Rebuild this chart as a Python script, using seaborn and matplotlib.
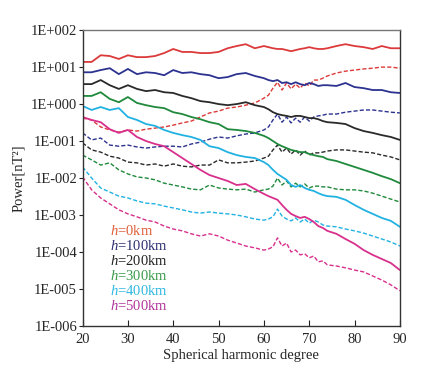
import numpy as np
import matplotlib
matplotlib.use('Agg')
import matplotlib.pyplot as plt
import seaborn as sns

# spherical harmonic degree (denser around 60-74 where the dashed curves zigzag)
degree = [20, 22, 24, 26, 28, 30, 32, 34, 36, 38, 40, 42, 44, 46, 48, 50, 52, 54, 56, 58, 60,
          61, 62, 63, 64, 65, 66, 67, 68, 69, 70, 71, 72, 73, 74,
          76, 78, 80, 82, 84, 86, 88, 90]

# log10 of power [nT^2], solid curves
solid_h0 = [1.14, 1.14, 1.32, 1.30, 1.22, 1.32, 1.27, 1.27, 1.30, 1.38, 1.49, 1.41, 1.41, 1.38, 1.38, 1.41, 1.51, 1.57, 1.62, 1.51, 1.57,
            1.54, 1.51, 1.49, 1.49, 1.46, 1.43, 1.46, 1.49, 1.51, 1.54, 1.51, 1.49, 1.49, 1.51,
            1.57, 1.62, 1.57, 1.54, 1.49, 1.57, 1.51, 1.51]
solid_h100 = [0.86, 0.86, 0.92, 0.97, 0.81, 0.95, 0.81, 0.86, 0.84, 0.78, 0.92, 0.84, 0.86, 0.81, 0.78, 0.70, 0.73, 0.81, 0.84, 0.76, 0.70,
              0.65, 0.62, 0.65, 0.57, 0.59, 0.54, 0.59, 0.54, 0.51, 0.57, 0.54, 0.49, 0.51, 0.51,
              0.49, 0.57, 0.46, 0.43, 0.38, 0.38, 0.32, 0.30]
solid_h200 = [0.54, 0.54, 0.65, 0.51, 0.41, 0.51, 0.41, 0.35, 0.38, 0.32, 0.30, 0.22, 0.16, 0.08, 0.05, 0.00, -0.03, 0.00, 0.05, -0.03, -0.08,
              -0.14, -0.22, -0.27, -0.30, -0.32, -0.35, -0.32, -0.32, -0.35, -0.38, -0.38, -0.41, -0.46, -0.49,
              -0.51, -0.54, -0.65, -0.73, -0.78, -0.84, -0.89, -0.97]
solid_h300 = [0.22, 0.22, 0.32, 0.14, 0.05, 0.19, 0.03, -0.03, -0.08, -0.11, -0.22, -0.27, -0.35, -0.41, -0.49, -0.54, -0.68, -0.70, -0.73, -0.78, -0.86,
              -0.92, -1.00, -1.08, -1.14, -1.19, -1.24, -1.27, -1.30, -1.30, -1.35, -1.38, -1.41, -1.43, -1.49,
              -1.54, -1.62, -1.70, -1.78, -1.86, -1.95, -2.03, -2.14]
solid_h400 = [-0.05, -0.16, -0.08, -0.16, -0.11, -0.35, -0.43, -0.54, -0.59, -0.70, -0.78, -0.84, -0.89, -0.97, -1.14, -1.19, -1.30, -1.38, -1.43, -1.46, -1.57,
              -1.65, -1.78, -1.89, -1.97, -2.05, -2.19, -2.24, -2.19, -2.27, -2.32, -2.35, -2.41, -2.46, -2.49,
              -2.51, -2.59, -2.73, -2.86, -2.97, -3.08, -3.16, -3.32]
solid_h500 = [-0.35, -0.43, -0.49, -0.68, -0.78, -0.70, -0.89, -1.00, -1.08, -1.14, -1.30, -1.46, -1.62, -1.78, -1.92, -2.00, -2.08, -2.19, -2.16, -2.30, -2.43,
              -2.49, -2.54, -2.59, -2.73, -2.86, -2.97, -3.03, -3.08, -3.05, -3.11, -3.19, -3.30, -3.35, -3.43,
              -3.51, -3.65, -3.78, -3.95, -4.08, -4.19, -4.30, -4.49]

# log10 of power [nT^2], dashed curves
dash_h0 = [-0.38, -0.43, -0.62, -0.70, -0.76, -0.70, -0.73, -0.68, -0.65, -0.62, -0.57, -0.51, -0.46, -0.35, -0.24, -0.19, -0.11, -0.08, -0.03, 0.03, 0.16,
           0.24, 0.43, 0.59, 0.38, 0.57, 0.41, 0.54, 0.43, 0.57, 0.49, 0.65, 0.65, 0.70, 0.76,
           0.84, 0.89, 0.92, 0.95, 0.97, 1.00, 1.00, 0.97]
dash_h100 = [-0.78, -0.97, -0.92, -1.11, -1.14, -1.11, -1.16, -1.19, -1.16, -1.14, -1.14, -1.16, -1.08, -1.03, -0.95, -0.89, -0.92, -0.86, -0.81, -0.78, -0.70,
             -0.62, -0.43, -0.27, -0.49, -0.35, -0.51, -0.38, -0.49, -0.35, -0.46, -0.35, -0.32, -0.30, -0.27,
             -0.27, -0.22, -0.19, -0.16, -0.16, -0.19, -0.22, -0.24]
dash_h200 = [-1.05, -1.24, -1.30, -1.41, -1.46, -1.57, -1.59, -1.65, -1.62, -1.68, -1.62, -1.68, -1.70, -1.65, -1.65, -1.51, -1.59, -1.59, -1.57, -1.54, -1.46,
             -1.41, -1.24, -1.11, -1.30, -1.19, -1.35, -1.24, -1.38, -1.27, -1.38, -1.32, -1.32, -1.30, -1.27,
             -1.24, -1.24, -1.27, -1.30, -1.32, -1.38, -1.43, -1.51]
dash_h300 = [-1.38, -1.51, -1.65, -1.59, -1.78, -1.89, -1.97, -2.00, -2.05, -2.14, -2.19, -2.24, -2.30, -2.32, -2.19, -2.27, -2.30, -2.32, -2.30, -2.38, -2.32,
             -2.30, -2.22, -2.00, -2.19, -2.08, -2.24, -2.14, -2.24, -2.16, -2.27, -2.22, -2.22, -2.24, -2.24,
             -2.30, -2.32, -2.32, -2.35, -2.41, -2.49, -2.57, -2.65]
dash_h400 = [-1.70, -2.00, -2.27, -2.38, -2.49, -2.54, -2.62, -2.68, -2.70, -2.76, -2.81, -2.86, -2.92, -2.95, -2.92, -2.95, -2.97, -3.00, -3.05, -3.11, -3.14,
             -3.11, -3.05, -2.84, -3.03, -3.11, -3.16, -3.08, -3.19, -3.11, -3.22, -3.14, -3.19, -3.27, -3.30,
             -3.32, -3.38, -3.43, -3.49, -3.57, -3.65, -3.73, -3.84]
dash_h500 = [-1.97, -2.32, -2.54, -2.70, -2.86, -2.97, -3.05, -3.14, -3.19, -3.30, -3.38, -3.43, -3.51, -3.57, -3.51, -3.57, -3.68, -3.76, -3.84, -3.89, -3.95,
             -3.92, -3.86, -3.62, -3.84, -3.76, -4.00, -3.95, -4.08, -4.05, -4.16, -4.11, -4.27, -4.24, -4.35,
             -4.38, -4.43, -4.49, -4.54, -4.65, -4.76, -4.89, -5.05]

labels = ['0km', '100km', '200km', '300km', '400km', '500km']
colors = ['#dc3a3a', '#2c3290', '#2a2a2a', '#1f8a3c', '#22b2e2', '#d8308c']
text_colors = ['#e0603a', '#2c3070', '#222222', '#3a9a4a', '#30b8e0', '#b0359a']

solids = [solid_h0, solid_h100, solid_h200, solid_h300, solid_h400, solid_h500]
dashes = [dash_h0, dash_h100, dash_h200, dash_h300, dash_h400, dash_h500]

ytick_vals = [1e2, 1e1, 1e0, 1e-1, 1e-2, 1e-3, 1e-4, 1e-5, 1e-6]
ytick_labels = ['1E+002', '1E+001', '1E+000', '1E-001', '1E-002', '1E-003', '1E-004', '1E-005', '1E-006']
xtick_vals = [20, 30, 40, 50, 60, 70, 80, 90]

sns.set_style('ticks')
plt.rcParams['font.family'] = ['Liberation Serif', 'DejaVu Serif']
plt.rcParams['mathtext.fontset'] = 'custom'
plt.rcParams['mathtext.rm'] = 'Liberation Serif'
plt.rcParams['mathtext.it'] = 'Liberation Serif:italic'

fig = plt.figure(figsize=(4.3, 3.72), dpi=100)
ax = fig.add_axes([0.192, 0.124, 0.738, 0.795])
ax.set_yscale('log')

deg = np.array(degree)
for s, d, c in zip(solids, dashes, colors):
    sns.lineplot(x=deg, y=10 ** np.array(d), color=c, lw=1.0, dashes=False,
                 linestyle=(0, (3, 1.5)), estimator=None, ax=ax)
    sns.lineplot(x=deg, y=10 ** np.array(s), color=c, lw=1.3, estimator=None, ax=ax)

ax.set_xlim(20, 90)
ax.set_ylim(1e-6, 1e2)
ax.set_xticks(xtick_vals)
ax.set_xticklabels([str(v) for v in xtick_vals])
ax.set_yticks(ytick_vals)
ax.set_yticklabels(ytick_labels)
ax.yaxis.set_minor_locator(matplotlib.ticker.NullLocator())
ax.tick_params(axis='x', direction='in', length=4, labelsize=10.5, pad=5, color='#222222')
ax.tick_params(axis='y', direction='out', length=3, labelsize=10.5, pad=1, color='#222222')
for sp in ax.spines.values():
    sp.set_visible(True)
    sp.set_color('#333333')
    sp.set_linewidth(1.0)
ax.spines['top'].set_color('#777777')

ax.set_xlabel('Spherical harmonic degree', fontsize=10.5, labelpad=2)
ax.set_ylabel('Power[nT²]', fontsize=10.5, labelpad=4)

for i, (lab, tc) in enumerate(zip(labels, text_colors)):
    ax.text(0.087, 0.321 - i * 0.0505, r'$\mathit{h}$=' + lab, color=tc,
            fontsize=10.5, transform=ax.transAxes, va='center', ha='left')

fig.savefig('out.png', dpi=100)
